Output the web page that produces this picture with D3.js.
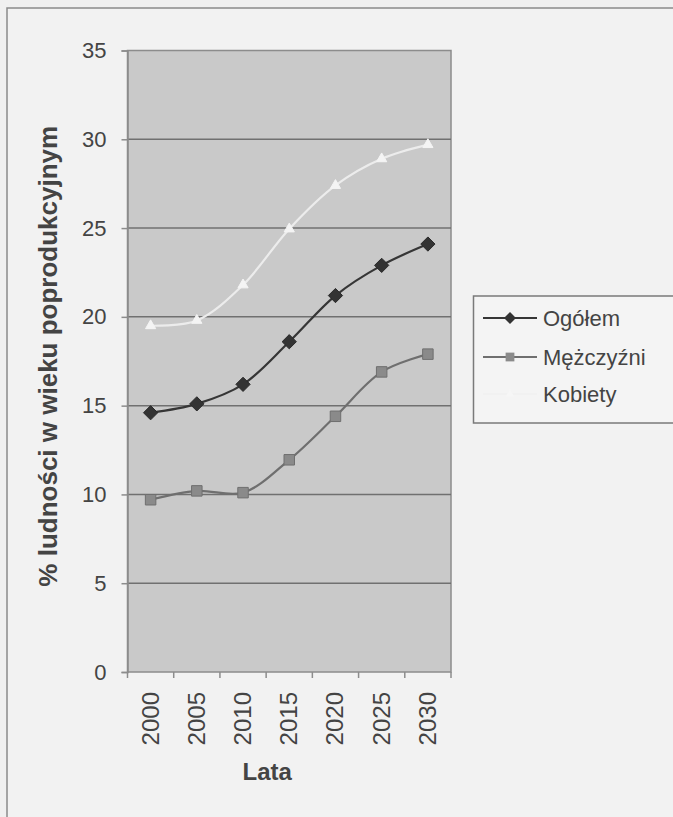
<!DOCTYPE html>
<html>
<head>
<meta charset="utf-8">
<script src="https://cdn.jsdelivr.net/npm/d3@7/dist/d3.min.js"></script>
<style>
  html, body { margin: 0; padding: 0; background: #f0f0f0; }
  svg { display: block; }
  text { font-family: "Liberation Sans", Arial, sans-serif; fill: #444; }
</style>
</head>
<body>
<svg id="chart" width="673" height="817"></svg>
<script>
// Udział ludności w wieku poprodukcyjnym, prognoza 2000–2030
const years = ["2000", "2005", "2010", "2015", "2020", "2025", "2030"];
const ogolem = [14.6, 15.1, 16.2, 18.6, 21.2, 22.9, 24.1];
const mezczyzni = [9.7, 10.2, 10.1, 11.95, 14.4, 16.9, 17.9];
const kobiety = [19.5, 19.8, 21.8, 24.95, 27.4, 28.9, 29.7];
const seriesNames = ["Ogółem", "Mężczyźni", "Kobiety"];
const yTicks = [0, 5, 10, 15, 20, 25, 30, 35];

const svg = d3.select("#chart");

// outer frame
svg.append("rect")
  .attr("x", 7).attr("y", 8).attr("width", 700).attr("height", 830)
  .attr("fill", "#f2f2f2").attr("stroke", "#8a8a8a").attr("stroke-width", 1.5);

const plot = { left: 127.5, right: 451, top: 50.5, bottom: 672 };

const x = d3.scaleBand().domain(years).range([plot.left, plot.right]).padding(0);
const y = d3.scaleLinear().domain([0, 35]).range([plot.bottom, plot.top]);
const cx = d => x(d) + x.bandwidth() / 2;

// plot area
svg.append("rect")
  .attr("x", plot.left).attr("y", plot.top)
  .attr("width", plot.right - plot.left).attr("height", plot.bottom - plot.top)
  .attr("fill", "#c9c9c9").attr("stroke", "#8c8c8c").attr("stroke-width", 1.5);

// horizontal gridlines
svg.append("g").selectAll("line")
  .data(yTicks.filter(t => t > 0 && t < 35))
  .join("line")
  .attr("x1", plot.left).attr("x2", plot.right)
  .attr("y1", d => y(d)).attr("y2", d => y(d))
  .attr("stroke", "#707070").attr("stroke-width", 1.5);

// y axis
const yAxis = svg.append("g")
  .attr("transform", `translate(${plot.left},0)`)
  .call(d3.axisLeft(y).tickValues(yTicks).tickSize(6).tickPadding(15).tickFormat(d3.format("d")));
yAxis.select(".domain").attr("stroke", "#8c8c8c").attr("stroke-width", 1.5);
yAxis.selectAll(".tick line").attr("stroke", "#8c8c8c").attr("stroke-width", 1.5);
yAxis.selectAll(".tick text")
  .attr("font-size", 22).attr("fill", "#444")
  .attr("font-family", "Liberation Sans, Arial, sans-serif");

// x axis: ticks on category boundaries
const xg = svg.append("g");
const bounds = years.map(d => x(d)).concat([plot.right]);
xg.selectAll("line")
  .data(bounds)
  .join("line")
  .attr("x1", d => d).attr("x2", d => d)
  .attr("y1", plot.bottom).attr("y2", plot.bottom + 6)
  .attr("stroke", "#8c8c8c").attr("stroke-width", 1.5);
xg.selectAll("text")
  .data(years)
  .join("text")
  .attr("transform", d => `translate(${cx(d) + 8},${plot.bottom + 20}) rotate(-90)`)
  .attr("text-anchor", "end")
  .attr("font-size", 24)
  .text(d => d);

// axis titles
svg.append("text")
  .attr("transform", `translate(57,${(plot.top + plot.bottom) / 2 - 5}) rotate(-90)`)
  .attr("text-anchor", "middle")
  .attr("font-size", 26).attr("font-weight", "bold")
  .text("% ludności w wieku poprodukcyjnym");

svg.append("text")
  .attr("x", (plot.left + plot.right) / 2 - 22).attr("y", 780)
  .attr("text-anchor", "middle")
  .attr("font-size", 24).attr("font-weight", "bold")
  .text("Lata");

// series
const line = d3.line().x((d, i) => cx(years[i])).y(d => y(d)).curve(d3.curveCatmullRom.alpha(0.5));

const diamond = {
  draw(ctx, size) {
    const r = Math.sqrt(size) / 1.6;
    ctx.moveTo(0, -r); ctx.lineTo(r, 0); ctx.lineTo(0, r); ctx.lineTo(-r, 0); ctx.closePath();
  }
};

const styles = [
  { data: ogolem, stroke: "#363636", marker: diamond, msize: 130, mfill: "#333", mstroke: "#2a2a2a" },
  { data: mezczyzni, stroke: "#6f6f6f", marker: d3.symbolSquare, msize: 110, mfill: "#8a8a8a", mstroke: "#6f6f6f" },
  { data: kobiety, stroke: "#ececec", marker: d3.symbolTriangle, msize: 45, mfill: "#f4f4f4", mstroke: "#f4f4f4" }
];

styles.forEach(s => {
  svg.append("path")
    .attr("d", line(s.data))
    .attr("fill", "none").attr("stroke", s.stroke).attr("stroke-width", 2.2);
  svg.append("g").selectAll("path")
    .data(s.data)
    .join("path")
    .attr("transform", (d, i) => `translate(${cx(years[i])},${y(d)})`)
    .attr("d", d3.symbol().type(s.marker).size(s.msize))
    .attr("fill", s.mfill).attr("stroke", s.mstroke).attr("stroke-width", 1);
});

// legend
const lg = svg.append("g");
lg.append("rect")
  .attr("x", 473.5).attr("y", 296).attr("width", 220).attr("height", 127)
  .attr("fill", "#f4f4f4").attr("stroke", "#7a7a7a").attr("stroke-width", 1.5);
const rows = [318, 357, 394];
seriesNames.forEach((name, i) => {
  const s = styles[i];
  lg.append("line")
    .attr("x1", 483).attr("x2", 537).attr("y1", rows[i]).attr("y2", rows[i])
    .attr("stroke", i === 2 ? "#f1f1f1" : s.stroke).attr("stroke-width", 2);
  lg.append("path")
    .attr("transform", `translate(510,${rows[i]})`)
    .attr("d", d3.symbol().type(s.marker).size(s.msize * 0.7))
    .attr("fill", i === 2 ? "#f6f6f6" : s.mfill).attr("stroke", "none");
  lg.append("text")
    .attr("x", 543).attr("y", rows[i] + 8)
    .attr("font-size", 22)
    .text(name);
});
</script>
</body>
</html>
